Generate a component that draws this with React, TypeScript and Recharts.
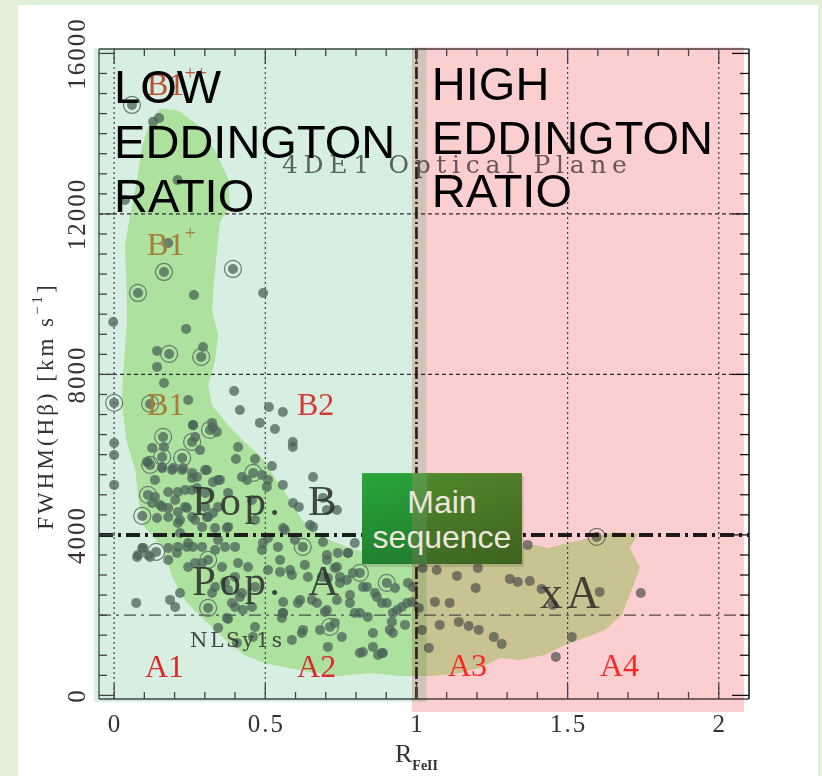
import React from 'react';
import { ComposedChart, XAxis, YAxis, Scatter, ReferenceLine, ReferenceArea } from 'recharts';

// 4DE1 optical plane: R_FeII vs FWHM(Hb), with Eddington-ratio overlays

const SERIF = '"Liberation Serif", "DejaVu Serif", serif';
const WIDE_SERIF = '"DejaVu Serif", "Liberation Serif", serif';
const SANS = '"Liberation Sans", Arial, sans-serif';

// ticks
const xTicks = [0, 0.1, 0.2, 0.3, 0.4, 0.5, 0.6, 0.7, 0.8, 0.9, 1, 1.1, 1.2, 1.3, 1.4, 1.5, 1.6, 1.7, 1.8, 1.9, 2];
const xMajorTicks = [0, 0.5, 1, 1.5, 2];
const xMajorLabels = ['0', '0.5', '1', '1.5', '2'];
const yTicks = [
  0, 500, 1000, 1500, 2000, 2500, 3000, 3500, 4000, 4500, 5000, 5500, 6000, 6500, 7000, 7500, 8000,
  8500, 9000, 9500, 10000, 10500, 11000, 11500, 12000, 12500, 13000, 13500, 14000, 14500, 15000, 15500, 16000,
];
const yMajorTicks = [0, 4000, 8000, 12000, 16000];
const yMajorLabels = ['0', '4000', '8000', '12000', '16000'];

// sources [R_FeII, FWHM]
const sources: [number, number][] = [
  [0.129, 14295], [0.149, 14390], [0.21, 12846], [0.036, 12348], [0.179, 11276], [0.264, 9980], [0.493, 10030],
  [-0.003, 9308], [0.238, 9134], [0.142, 8586], [0.294, 8685], [0.142, 8187], [0.165, 7787], [0.397, 7588],
  [0.245, 7363], [0.416, 7114], [0.512, 7189], [0.558, 7065], [0.482, 6791], [0.532, 6641], [0.591, 6317],
  [0.591, 6192], [0.41, 6192], [0.403, 5893], [0.466, 5893], [0.522, 5719], [0.658, 5445], [0.558, 5246],
  [0.505, 5196], [0.44, 5371], [0.35, 5371], [0.126, 6168], [0.195, 5669], [0.307, 5619], [0.327, 6691],
  [0.284, 6118], [0.258, 5420], [0, 6292], [0, 5993], [0, 5246], [0.079, 3501], [0.592, 4797], [0.611, 4698],
  [0.658, 4199], [0.691, 3825], [0.773, 3551], [0.73, 3177], [0.707, 2928], [0.747, 2804], [0.78, 2504],
  [0.869, 2455], [0.836, 2704], [0.073, 2305], [0.185, 2380], [0.218, 2554], [0.373, 1931], [0.344, 1682],
  [0.426, 2131], [0.558, 2056], [0.615, 2380], [0.681, 1632], [0.753, 1458], [0.588, 1383], [0.621, 1557],
  [0.707, 1209], [0.856, 1209], [0.813, 1059], [0.886, 1059], [0.962, 1757], [0.922, 2056], [0.406, 1308],
  [0.459, 1458], [0.096, 3676], [0.076, 3452], [0.119, 3452], [0.202, 2205], [0.377, 1906], [0.135, 5371],
  [0.159, 5694], [0.192, 5619], [0.225, 5619], [0.258, 5545], [0.135, 4947], [0.159, 4698], [0.202, 4872],
  [0.235, 4698], [0.179, 4448], [0.211, 4298], [0.258, 4448], [0.291, 4199], [0.245, 3800], [0.291, 3701],
  [0.211, 3701], [0.268, 3302], [0.179, 3377], [0.344, 3875], [0.377, 4199], [0.4, 3701], [0.357, 3202],
  [0.4, 2953], [0.443, 3202], [0.377, 2629], [0.423, 2554], [0.466, 2704], [0.456, 2205], [0.4, 2205],
  [0.311, 4448], [0.344, 4698], [0.301, 5047], [0.258, 5121], [0.344, 5371], [0.377, 5047], [0.423, 5445],
  [0.456, 4872], [0.466, 4373], [0.489, 3626], [0.324, 2554], [0.489, 5495], [0.509, 5371], [0.691, 4922],
  [0.704, 4623], [0.565, 4124], [0.542, 3701], [0.796, 3800], [0.74, 3551], [0.509, 3925], [0.598, 3875],
  [0.704, 3501], [0.631, 3252], [0.588, 3003], [0.549, 3078], [0.737, 3202], [0.747, 2953], [0.79, 3053],
  [0.863, 2554], [0.929, 2679], [0.972, 2804], [0.985, 2330], [0.886, 2305], [0.608, 2305], [0.654, 2380],
  [0.697, 2081], [0.73, 1807], [0.796, 2056], [0.839, 1956], [0.919, 1832], [0.912, 1632], [0.625, 1632],
  [0.555, 1931], [0.873, 1009], [0.952, 2205], [0.509, 3127], [0.687, 2953], [0.549, 3377],
  [1.368, 3751], [1.021, 3177], [1.067, 3127], [1.203, 3177], [1.134, 2978], [1.196, 2679], [1.309, 2903],
  [1.335, 2829], [1.375, 2853], [1.414, 2654], [1.451, 2255], [1.606, 2579], [1.742, 2554], [1.061, 2330],
  [1.11, 2305], [1.008, 2181], [1.018, 1632], [1.077, 1757], [1.14, 1832], [1.173, 1732], [1.206, 1632],
  [1.256, 1458], [1.282, 1283], [1.514, 1458], [1.461, 959], [1.041, 1184], [0.988, 2704],
  [0.324, 6791], [0.34, 6567], [0.261, 6741], [0.165, 6192], [0.109, 5819], [0.268, 6442],
  [0.261, 6735], [0.112, 5814], [0.159, 5665], [0.228, 5665], [0.274, 5441], [0.301, 5615], [0.327, 5316],
  [0.179, 5067], [0.211, 5067], [0.235, 5117], [0.274, 5167], [0.126, 4793], [0.152, 4744], [0.179, 4669],
  [0.211, 4569], [0.241, 4669], [0.301, 4694], [0.327, 4544], [0.142, 4420], [0.218, 4370], [0.268, 4370],
  [0.307, 4445], [0.334, 4171], [0.373, 4171], [0.218, 4046], [0.093, 3673], [0.112, 3499], [0.179, 3673],
  [0.208, 3548], [0.241, 3698], [0.261, 3698], [0.334, 3623], [0.367, 3698], [0.245, 3200], [0.291, 3299],
  [0.41, 3299], [0.334, 2702], [0.367, 2826], [0.416, 2453], [0.39, 2303], [0.737, 4619], [0.648, 4245],
  [0.559, 4171], [0.492, 3797], [0.774, 3548], [0.704, 3374], [0.582, 3125], [0.641, 2951], [0.77, 2876],
  [0.823, 2702], [0.902, 2303], [0.936, 2129], [0.969, 2303], [0.559, 2328], [0.737, 2378], [0.78, 2303],
  [0.813, 2054], [0.922, 1556], [0.856, 1556], [0.823, 1083], [0.889, 1058], [0.466, 1706], [0.559, 2054],
  [0.671, 2303], [0.704, 2129],
];

const ringedSources: [number, number][] = [
  [0.059, 14715], [0.165, 10553], [0.393, 10628], [0.079, 10030], [0.182, 8510], [0.288, 8436], [0, 7290],
  [0.119, 7264], [0.162, 6442], [0.258, 6317], [0.225, 5918], [0.159, 5943], [0.119, 5744], [0.46, 5545],
  [0.317, 6616], [0.112, 4997], [0.093, 4473], [0.139, 3576], [0.311, 3377], [0.624, 3701], [0.813, 3053],
  [0.902, 2804], [0.311, 2181], [0.714, 1707], [1.596, 3950],
];

// outline of the density contour
const densityContour: [number, number][] = [
  [0.152, 14629], [0.212, 14579], [0.278, 14206], [0.334, 13583], [0.377, 12886], [0.383, 12214], [0.35, 11790],
  [0.34, 11093], [0.331, 10346], [0.324, 9599], [0.344, 8976], [0.334, 8354], [0.311, 7731], [0.324, 7233],
  [0.377, 6735], [0.433, 6312], [0.489, 5914], [0.532, 5416], [0.582, 4868], [0.621, 4370], [0.688, 3947],
  [0.78, 3673], [0.879, 3474], [0.962, 3374], [1.028, 3324], [1.094, 3374], [1.16, 3474], [1.243, 3623],
  [1.326, 3673], [1.392, 3748], [1.435, 3673], [1.474, 3748], [1.574, 3922], [1.656, 4071], [1.732, 4022],
  [1.706, 3673], [1.739, 3175], [1.712, 2627], [1.679, 2005], [1.623, 1631], [1.557, 1432], [1.491, 1257],
  [1.425, 1009], [1.342, 884], [1.276, 934], [1.21, 685], [1.127, 535], [1.045, 486], [0.945, 486],
  [0.846, 560], [0.747, 486], [0.648, 585], [0.565, 700], [0.499, 800], [0.433, 1000], [0.367, 1400],
  [0.311, 1800], [0.268, 2100], [0.22, 2500], [0.19, 3000], [0.16, 3700], [0.1, 4200], [0.08, 4868],
  [0.07, 5615], [0.04, 6362], [0.025, 7358], [0.033, 8354], [0.043, 9350], [0.04, 10346], [0.036, 11218],
  [0.053, 11965], [0.076, 12837], [0.093, 13708], [0.119, 14331],
];

// labels inside the diagram
const regionLabels = [
  { x: 0.109, y: 14952, text: 'B1', sup: '++', color: '#d9573c' },
  { x: 0.109, y: 10968, text: 'B1', sup: '+', color: '#c9843f' },
  { x: 0.109, y: 6984, text: 'B1', sup: '', color: '#c9843f' },
  { x: 0.605, y: 6984, text: 'B2', sup: '', color: '#ff3d3d' },
  { x: 0.102, y: 461, text: 'A1', sup: '', color: '#ff3030' },
  { x: 0.605, y: 461, text: 'A2', sup: '', color: '#ff3030' },
  { x: 1.104, y: 486, text: 'A3', sup: '', color: '#ff3030' },
  { x: 1.607, y: 486, text: 'A4', sup: '', color: '#ff3030' },
];

const populationLabels = [
  { x: 0.258, y: 4494, text: 'Pop.', tail: 'B' },
  { x: 0.258, y: 2502, text: 'Pop.', tail: 'A' },
];

const smallLabels = [
  { x: 0.251, y: 1208, text: 'NLSy1s', size: 20, len: 92 },
  { x: 1.408, y: 2179, text: 'xA', size: 46, len: 60 },
  { x: 0.555, y: 13010, text: '4DE1 Optical Plane', size: 25, len: 345 },
];

const lowTitle = ['LOW', 'EDDINGTON', 'RATIO'];
const lowTitleY = [14761, 13392, 12047];
const highTitle = ['HIGH', 'EDDINGTON', 'RATIO'];
const highTitleY = [14836, 13491, 12172];

const titleData = [
  ...lowTitle.map((t, i) => ({ x: 0, y: lowTitleY[i], text: t })),
  ...highTitle.map((t, i) => ({ x: 1.051, y: highTitleY[i], text: t })),
];

const sourceData = sources.map(([x, y]) => ({ x, y }));
const ringedData = ringedSources.map(([x, y]) => ({ x, y }));
const contourData = densityContour.map(([x, y]) => ({ x, y }));

const POINT = '#586b63';
const TICK = '#444';

const none = () => <g />;

const Dot = (p: any) => <circle cx={p.cx} cy={p.cy} r={5} fill={POINT} fillOpacity={0.75} />;

const RingDot = (p: any) => (
  <g>
    <circle cx={p.cx} cy={p.cy} r={8.5} fill="none" stroke="#74827b" strokeWidth={1.2} />
    <circle cx={p.cx} cy={p.cy} r={5} fill={POINT} fillOpacity={0.75} />
  </g>
);

const RegionLabel = (p: any) => {
  const d = p.payload ?? p;
  return (
    <text x={p.cx} y={p.cy} fill={d.color} fontFamily={SERIF} fontSize={32}>
      {d.text}
      {d.sup ? (
        <tspan fontSize={20} dy={-15}>
          {d.sup}
        </tspan>
      ) : null}
    </text>
  );
};

const PopLabel = (p: any) => {
  const d = p.payload ?? p;
  return (
    <g fill="#2e2e2e" fillOpacity={0.85} fontFamily={SERIF} fontSize={43}>
      <text x={p.cx} y={p.cy} textLength={88} lengthAdjust="spacing">
        {d.text}
      </text>
      <text x={p.cx + 116} y={p.cy}>
        {d.tail}
      </text>
    </g>
  );
};

const SmallLabel = (p: any) => {
  const d = p.payload ?? p;
  const plane = d.len > 200;
  return (
    <text
      x={p.cx}
      y={p.cy}
      fill={plane ? '#6a6a6a' : '#2e2e2e'}
      fillOpacity={plane ? 1 : 0.85}
      fontFamily={d.len === 60 ? SERIF : WIDE_SERIF}
      fontWeight={plane ? 300 : 400}
      fontSize={d.size}
      textLength={d.len}
      lengthAdjust="spacing"
    >
      {d.text}
    </text>
  );
};

const TitleLabel = (p: any) => {
  const d = p.payload ?? p;
  return (
    <text x={p.cx} y={p.cy} fill="#000" fontFamily={SANS} fontSize={47}>
      {d.text}
    </text>
  );
};

const multiplyRect = (fill: string) => (p: any) => (
  <rect x={p.x} y={p.y} width={p.width} height={p.height} fill={fill} style={{ mixBlendMode: 'multiply' }} />
);

const MainSequenceBox = (p: any) => {
  const cx = p.x + p.width / 2;
  return (
    <g>
      <defs>
        <linearGradient id="msH" x1="0" y1="0" x2="1" y2="0">
          <stop offset="0" stopColor="#29a63b" />
          <stop offset="0.31" stopColor="#2aa039" />
          <stop offset="0.31" stopColor="#5a9c4a" />
          <stop offset="0.405" stopColor="#5a984a" />
          <stop offset="0.405" stopColor="#508a2c" />
          <stop offset="1" stopColor="#4f7d27" />
        </linearGradient>
        <linearGradient id="msV" x1="0" y1="0" x2="0" y2="1">
          <stop offset="0" stopColor="#000" stopOpacity={0} />
          <stop offset="1" stopColor="#000" stopOpacity={0.22} />
        </linearGradient>
      </defs>
      <rect x={p.x + 2} y={p.y + 3} width={p.width} height={p.height} fill="#000" opacity={0.12} />
      <rect x={p.x} y={p.y} width={p.width} height={p.height} fill="url(#msH)" />
      <rect x={p.x} y={p.y} width={p.width} height={p.height} fill="url(#msV)" />
      <text x={cx} y={p.y + 40} textAnchor="middle" fontFamily={SANS} fontSize={32} fill="#efe6de">
        Main
      </text>
      <text x={cx} y={p.y + 75} textAnchor="middle" fontFamily={SANS} fontSize={32} fill="#efe6de">
        sequence
      </text>
    </g>
  );
};

const BottomTick = (p: any) => {
  const i = xMajorTicks.indexOf(p.payload.value);
  const major = i >= 0;
  return (
    <g>
      <line x1={p.x} x2={p.x} y1={p.y} y2={p.y - (major ? 15 : 7)} stroke={TICK} strokeWidth={1.3} />
      {major && (
        <text x={p.x + 1} y={p.y + 33} textAnchor="middle" fontFamily={SERIF} fontSize={25} letterSpacing={2} fill="#333">
          {xMajorLabels[i]}
        </text>
      )}
    </g>
  );
};

const TopTick = (p: any) => {
  const major = xMajorTicks.includes(p.payload.value);
  return <line x1={p.x} x2={p.x} y1={p.y} y2={p.y + (major ? 15 : 7)} stroke={TICK} strokeWidth={1.3} />;
};

const LeftTick = (p: any) => {
  const i = yMajorTicks.indexOf(p.payload.value);
  const major = i >= 0;
  const lx = p.x - 22;
  return (
    <g>
      <line x1={p.x} x2={p.x + (major ? 16 : 8)} y1={p.y} y2={p.y} stroke={TICK} strokeWidth={1.3} />
      {major && (
        <text
          x={lx}
          y={p.y}
          transform={`rotate(-90 ${lx} ${p.y})`}
          textAnchor="middle"
          dominantBaseline="central"
          fontFamily={SERIF}
          fontSize={25}
          letterSpacing={2}
          fill="#333"
        >
          {yMajorLabels[i]}
        </text>
      )}
    </g>
  );
};

const RightTick = (p: any) => {
  const major = yMajorTicks.includes(p.payload.value);
  return <line x1={p.x} x2={p.x - (major ? 17 : 9)} y1={p.y} y2={p.y} stroke="#111" strokeWidth={1.3} />;
};

const renderYTitle = (props: any) => {
  const vb = props.viewBox || { x: 39, y: 49, width: 60, height: 650 };
  const cx = vb.x + 6;
  const cy = vb.y + vb.height / 2 + 32;
  return (
    <text
      x={cx}
      y={cy}
      transform={`rotate(-90 ${cx} ${cy})`}
      textAnchor="middle"
      dominantBaseline="central"
      fontFamily={SERIF}
      fontSize={23}
      letterSpacing={3}
      fill="#333"
    >
      FWHM(Hβ) [km s
      <tspan fontSize={15} dy={-8}>
        −1
      </tspan>
      <tspan dy={8}>]</tspan>
    </text>
  );
};

const renderXTitle = (props: any) => {
  const vb = props.viewBox || { x: 99, y: 699, width: 650, height: 40 };
  const x = vb.x + vb.width / 2 - 29;
  const y = vb.y + 63;
  return (
    <text x={x} y={y} fontFamily={SERIF} fontSize={26} fill="#333">
      R
      <tspan fontSize={14} fontWeight="bold" dy={8}>
        FeII
      </tspan>
    </text>
  );
};

export default function App() {
  return (
    <div style={{ position: 'absolute', left: 0, top: 0, width: 822, height: 776, background: '#e2efd9', overflow: 'hidden' }}>
      <div style={{ position: 'absolute', left: 18, top: 5, width: 800, height: 771, background: '#fff' }} />
      <div style={{ position: 'absolute', left: 0, top: 0 }}>
        <ComposedChart width={822} height={776} margin={{ top: 39, right: 63, bottom: 37, left: 39 }}>
          <XAxis
            dataKey="x"
            type="number"
            domain={[-0.05, 2.1]}
            allowDataOverflow
            ticks={xTicks}
            interval={0}
            tickSize={0}
            tickMargin={0}
            tick={<BottomTick />}
            tickLine={false}
            axisLine={{ stroke: '#4a4a4a', strokeWidth: 1.3 }}
            height={40}
            label={renderXTitle}
            zIndex={55}
          />
          <XAxis
            xAxisId="top"
            orientation="top"
            dataKey="x"
            type="number"
            domain={[-0.05, 2.1]}
            allowDataOverflow
            ticks={xTicks}
            interval={0}
            tickSize={0}
            tickMargin={0}
            tick={<TopTick />}
            tickLine={false}
            axisLine={{ stroke: '#4a4a4a', strokeWidth: 1.3 }}
            height={10}
            zIndex={55}
          />
          <YAxis
            dataKey="y"
            type="number"
            domain={[-90, 16110]}
            allowDataOverflow
            ticks={yTicks}
            interval={0}
            tickSize={0}
            tickMargin={0}
            tick={<LeftTick />}
            tickLine={false}
            axisLine={{ stroke: '#4a4a4a', strokeWidth: 1.3 }}
            width={60}
            label={renderYTitle}
            zIndex={55}
          />
          <YAxis
            yAxisId="right"
            orientation="right"
            dataKey="y"
            type="number"
            domain={[-90, 16110]}
            allowDataOverflow
            ticks={yTicks}
            interval={0}
            tickSize={0}
            tickMargin={0}
            tick={<RightTick />}
            tickLine={false}
            axisLine={{ stroke: '#111', strokeWidth: 1.5 }}
            width={10}
            zIndex={55}
          />

          {/* density contour */}
          <Scatter
            data={contourData}
            shape={none}
            line={{ fill: '#cdf0b2', stroke: 'none', strokeWidth: 0 }}
            lineJointType="linearClosed"
            isAnimationActive={false}
            zIndex={10}
          />

          {/* grid */}
          {[0, 0.5, 1.5, 2].map((v) => (
            <ReferenceLine key={`gx${v}`} x={v} stroke="#444" strokeDasharray="2 3" strokeWidth={1.2} zIndex={20} />
          ))}
          {[8000, 12000].map((v) => (
            <ReferenceLine key={`gy${v}`} y={v} stroke="#333" strokeDasharray="4 3" strokeWidth={1.2} zIndex={20} />
          ))}
          <ReferenceLine y={2000} stroke="#555" strokeDasharray="12 5 3 5" strokeWidth={1.2} zIndex={20} />

          {/* sources */}
          <Scatter data={sourceData} shape={Dot} isAnimationActive={false} zIndex={30} />
          <Scatter data={ringedData} shape={RingDot} isAnimationActive={false} zIndex={30} />

          {/* labels in the diagram */}
          <Scatter data={regionLabels} shape={RegionLabel} isAnimationActive={false} zIndex={40} />
          <Scatter data={populationLabels} shape={PopLabel} isAnimationActive={false} zIndex={40} />
          <Scatter data={smallLabels} shape={SmallLabel} isAnimationActive={false} zIndex={40} />

          {/* population boundaries */}
          <ReferenceLine y={4000} stroke="#1e1e1e" strokeDasharray="14 5 3 5" strokeWidth={4} zIndex={50} />
          <ReferenceLine x={1} stroke="#2e2620" strokeDasharray="12 3 2 3" strokeWidth={2.6} zIndex={50} />

          {/* Eddington ratio overlays */}
          <ReferenceArea
            x1={-0.066}
            x2={1.034}
            y1={-162}
            y2={16130}
            ifOverflow="visible"
            shape={multiplyRect('#d7efe2')}
            zIndex={60}
          />
          <ReferenceArea
            x1={0.985}
            x2={2.083}
            y1={-411}
            y2={16148}
            ifOverflow="visible"
            shape={multiplyRect('#fbcfd0')}
            zIndex={60}
          />

          <ReferenceArea x1={0.82} x2={1.349} y1={3274} y2={5540} ifOverflow="visible" shape={MainSequenceBox} zIndex={700} />
          <Scatter data={titleData} shape={TitleLabel} isAnimationActive={false} zIndex={700} />
        </ComposedChart>
      </div>
    </div>
  );
}
